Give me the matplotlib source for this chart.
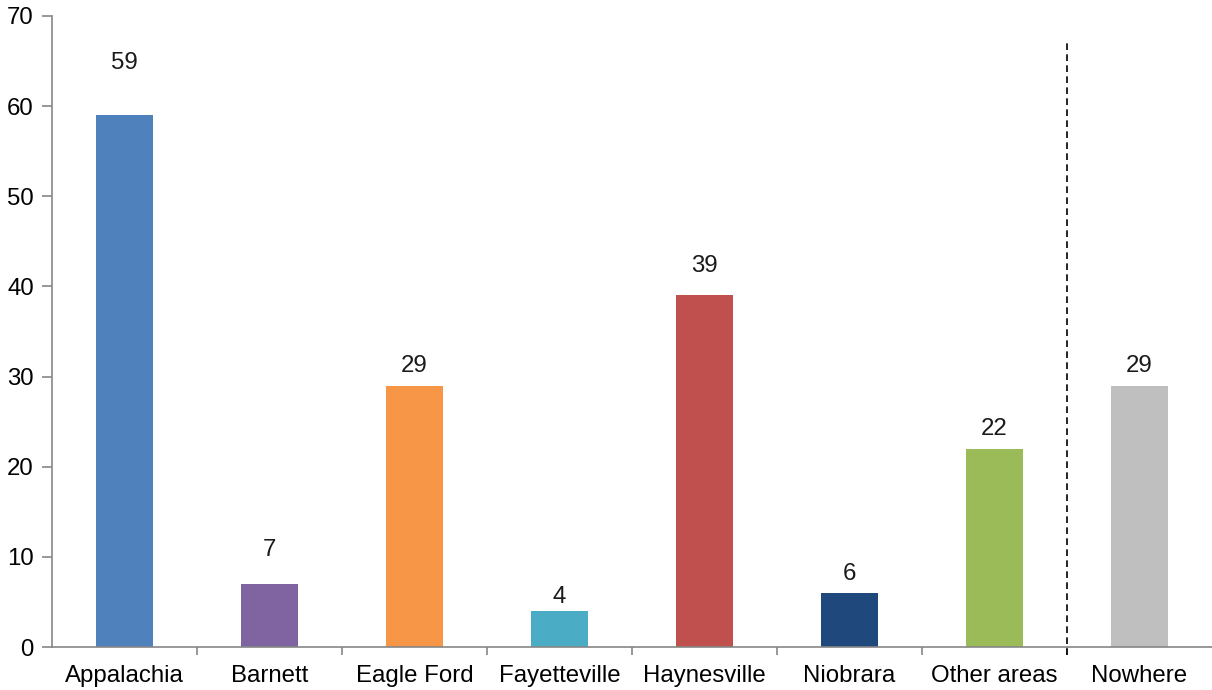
import matplotlib
matplotlib.use("Agg")
import matplotlib.pyplot as plt
import numpy as np

plt.rcParams["font.family"] = ["Liberation Sans", "DejaVu Sans"]

# data
categories = ["Appalachia", "Barnett", "Eagle Ford", "Fayetteville",
              "Haynesville", "Niobrara", "Other areas", "Nowhere"]
values = [59, 7, 29, 4, 39, 6, 22, 29]
bar_colors = ["#4F81BD", "#8064A2", "#F79646", "#4BACC6",
              "#C0504D", "#1F497D", "#9BBB59", "#BFBFBF"]
# gap between bar top and label baseline, in pixels
label_gap_px = [46, 28, 14, 8, 23, 13, 14, 14]

AXIS_GRAY = "#868686"
FS = 17.3

fig = plt.figure(figsize=(12.12, 6.9), dpi=100)
ax = fig.add_axes([52 / 1212, 43 / 690, 1 - 52 / 1212, (647 - 16) / 690])

x = np.arange(len(categories))
ax.bar(x, values, width=0.39, color=bar_colors, zorder=2)

for xi, v, g in zip(x, values, label_gap_px):
    ax.annotate(str(v), (xi, v), xytext=(0, g * 0.72), textcoords="offset points",
                ha="center", va="baseline", fontsize=FS, color="#1a1a1a")

# separator before "Nowhere"
ax.axvline(6.5, ymin=-0.012, ymax=67.2 / 70, color="black", linestyle=(0, (4, 2.6)),
           linewidth=1.2, clip_on=False, zorder=3)

ax.set_xlim(-0.5, len(categories) - 0.5)
ax.set_ylim(0, 70)
ax.set_yticks(np.arange(0, 71, 10))
ax.set_xticks(x)
ax.set_xticklabels(categories)
ax.set_xticks(np.arange(0.5, len(categories) - 0.5, 1), minor=True)

ax.tick_params(axis="x", which="major", length=0, pad=13, labelsize=FS)
ax.tick_params(axis="x", which="minor", length=6, color=AXIS_GRAY, width=1.2)
ax.tick_params(axis="y", length=7, color=AXIS_GRAY, width=1.2, pad=6, labelsize=FS)

for s in ["top", "right"]:
    ax.spines[s].set_visible(False)
for s in ["left", "bottom"]:
    ax.spines[s].set_color(AXIS_GRAY)
    ax.spines[s].set_linewidth(1.2)

fig.savefig("out.png", dpi=100)
